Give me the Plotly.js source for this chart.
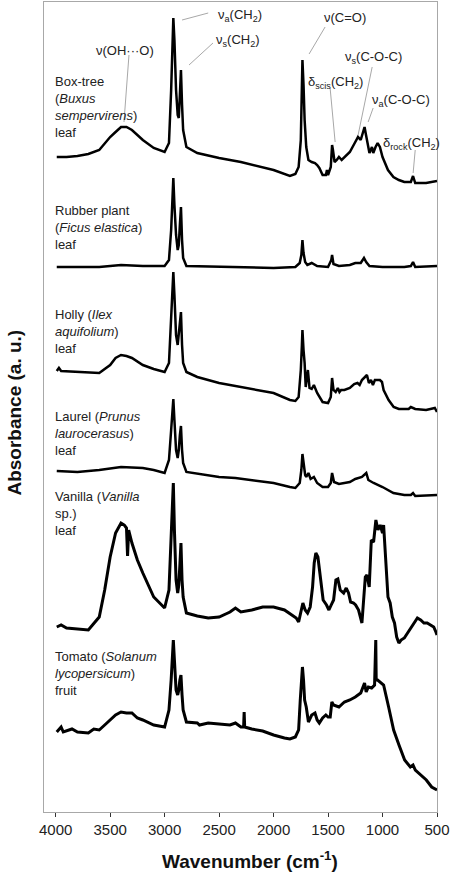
<!DOCTYPE html>
<html>
<head>
<meta charset="utf-8">
<script src="https://cdn.plot.ly/plotly-3.0.1.min.js"></script>
<style>
  html, body {margin: 0; padding: 0; background: #fff;}
  #ftir {width: 454px; height: 874px;}
</style>
</head>
<body>
<div id="ftir"></div>
<script>
// spectra, already stacked (a. u.)
var boxWn = [3990,3900,3800,3700,3600,3500,3450,3400,3350,3300,3200,3100,3000,2960,2940,2930,2920,2910,2895,2880,2870,2860,2850,2840,2830,2800,2700,2500,2300,2000,1850,1800,1770,1750,1740,1735,1725,1715,1700,1680,1650,1620,1600,1580,1550,1520,1510,1500,1475,1463,1455,1440,1420,1400,1375,1350,1300,1250,1225,1200,1165,1155,1140,1120,1097,1085,1064,1045,1024,1000,950,900,850,800,740,720,700,600,500];
var boxAbs = [65.5,65.5,65.6,65.8,66.2,67.5,68.0,68.5,68.5,68.2,67.2,66.4,66.0,66.9,72.2,77.2,79.4,77.2,72.2,69.7,69.4,71.7,74.2,70.7,68.2,66.5,65.9,65.4,65.0,64.2,63.6,63.8,64.5,67.2,72.2,75.2,72.7,69.2,66.5,65.2,65.0,64.9,64.7,64.4,63.7,63.7,64.2,63.7,64.5,66.7,66.2,65.0,65.2,65.5,65.2,65.5,66.0,67.0,67.5,67.2,68.5,67.9,66.9,65.9,66.5,65.9,66.5,66.9,66.5,65.5,64.2,63.5,63.2,63.0,63.0,63.6,62.9,62.9,63.1];

var rubberWn = [3990,3800,3600,3400,3200,3000,2960,2940,2930,2920,2910,2895,2880,2870,2860,2850,2840,2830,2800,2500,2000,1800,1760,1745,1735,1725,1710,1690,1650,1600,1500,1470,1463,1450,1400,1300,1250,1200,1170,1150,1120,1000,800,740,720,700,500];
var rubberAbs = [54.5,54.5,54.5,54.7,54.6,54.6,55.2,58.2,61.2,63.4,60.7,57.7,56.2,56.7,58.7,60.5,57.2,55.4,54.6,54.5,54.4,54.5,54.9,55.7,57.2,55.9,55.0,54.7,54.9,54.6,54.5,55.2,55.7,54.8,54.6,54.7,54.9,54.9,55.4,55.0,54.6,54.5,54.5,54.6,55.0,54.5,54.6];

var hollyWn = [3990,3970,3950,3800,3600,3500,3450,3400,3350,3300,3200,3100,3000,2960,2940,2930,2920,2910,2895,2880,2870,2860,2850,2840,2830,2800,2700,2500,2000,1850,1800,1770,1750,1740,1735,1725,1715,1705,1685,1670,1650,1630,1600,1550,1500,1475,1463,1450,1430,1410,1395,1380,1350,1300,1260,1230,1210,1189,1143,1125,1106,1088,1070,1024,1005,990,944,898,850,760,740,700,600,520,500];
var hollyAbs = [44.1,44.4,44.1,44.0,43.9,44.7,45.4,45.7,45.6,45.4,44.7,44.3,44.0,44.9,49.2,52.2,54.0,51.7,47.7,46.7,47.7,49.0,50.0,46.7,44.9,44.0,43.5,42.9,41.9,41.2,41.1,41.5,44.2,46.7,48.2,46.2,44.9,42.5,44.2,42.4,42.3,42.7,41.9,41.0,40.9,41.5,43.4,42.2,42.0,42.4,42.0,42.2,42.2,42.4,42.8,42.9,42.7,43.2,43.7,42.9,43.2,42.7,43.2,43.2,43.0,42.2,41.2,40.5,40.3,40.3,40.5,40.3,40.2,40.4,40.0];

var laurelWn = [3990,3800,3600,3400,3200,3100,3000,2960,2940,2930,2920,2910,2895,2880,2870,2860,2850,2840,2830,2800,2500,2350,2000,1850,1800,1760,1745,1735,1725,1710,1700,1680,1660,1630,1600,1550,1500,1475,1463,1445,1400,1350,1300,1250,1189,1149,1130,1082,1000,900,800,740,720,700,500];
var laurelAbs = [34.1,34.0,34.2,34.5,34.4,34.2,33.9,35.2,38.2,40.2,41.3,39.2,36.2,35.4,36.2,37.7,38.6,36.2,34.9,34.0,33.5,33.4,32.9,32.5,32.4,32.9,34.2,35.8,34.7,33.7,33.5,33.9,33.3,33.5,32.9,32.5,32.5,32.9,33.9,33.0,32.8,32.9,33.0,33.3,33.5,33.9,33.2,32.9,32.5,31.9,31.7,31.7,31.9,31.6,31.7];

var vanillaWn = [3990,3950,3900,3700,3600,3550,3500,3450,3400,3370,3350,3340,3330,3300,3250,3200,3100,3000,2960,2940,2930,2920,2910,2895,2880,2870,2860,2850,2840,2830,2800,2700,2600,2500,2400,2350,2300,2200,2100,2000,1900,1850,1792,1770,1731,1710,1688,1664,1642,1627,1612,1593,1572,1545,1514,1492,1471,1449,1428,1410,1388,1357,1333,1312,1293,1266,1247,1220,1189,1174,1158,1143,1122,1103,1082,1061,1042,1021,1000,990,970,950,930,910,890,870,850,830,800,770,740,710,680,650,620,590,560,530,510,500];
var vanillaAbs = [18.5,18.7,18.4,18.2,19.5,22.2,25.5,27.9,28.9,28.7,28.4,25.6,28.2,26.9,25.2,23.9,21.5,20.4,22.2,27.2,31.2,32.9,28.2,23.2,21.9,22.7,24.7,26.9,23.2,21.5,19.9,19.6,19.4,19.5,20.0,20.4,20.0,20.2,20.5,20.5,20.2,19.8,19.4,19.0,20.9,20.2,19.9,20.5,22.5,24.9,25.9,25.5,23.5,21.2,20.7,20.2,20.7,21.2,23.2,23.3,22.2,21.9,22.4,21.9,21.0,20.9,20.7,20.2,18.9,21.2,23.5,23.7,22.5,27.2,27.0,29.2,28.2,28.7,27.9,28.7,25.5,21.5,20.9,19.5,18.9,17.5,16.9,17.2,17.4,17.9,18.4,19.0,19.4,19.2,18.9,18.9,18.7,18.5,18.0,17.7];

var tomatoWn = [3990,3950,3930,3900,3850,3800,3700,3650,3600,3550,3500,3450,3400,3350,3300,3250,3200,3100,3000,2960,2940,2930,2920,2910,2895,2880,2870,2860,2850,2840,2830,2800,2700,2680,2600,2500,2400,2350,2300,2275,2270,2265,2200,2100,2000,1900,1850,1800,1770,1755,1745,1735,1725,1715,1700,1680,1650,1620,1600,1580,1550,1520,1500,1480,1465,1450,1400,1350,1300,1250,1200,1165,1150,1130,1100,1073,1062,1058,1045,990,944,898,849,797,745,720,699,650,598,549,500];
var tomatoAbs = [8.0,8.5,8.0,8.1,8.3,8.0,7.9,8.3,8.2,8.7,9.2,9.7,10.0,9.9,9.9,9.4,9.2,8.7,8.5,10.2,13.2,15.7,17.2,15.2,12.2,11.7,12.2,13.2,13.7,11.7,10.2,9.0,8.9,8.7,8.9,8.8,8.7,8.9,8.5,8.5,10.0,8.5,8.3,8.1,7.7,7.4,7.3,7.5,8.2,11.2,13.2,14.5,13.2,11.2,10.5,9.0,9.7,9.9,9.2,8.9,9.4,9.7,9.5,9.5,11.0,10.7,10.5,11.0,11.2,11.5,11.9,12.9,12.0,12.5,12.4,12.7,17.2,13.2,13.2,12.7,10.5,8.2,6.7,5.2,4.5,4.7,4.2,3.7,3.2,2.5,2.2];

var sampleNames = [
  'Box-tree<br>(<i>Buxus</i><br><i>sempervirens</i>)<br>leaf',
  'Rubber plant<br>(<i>Ficus elastica</i>)<br>leaf',
  'Holly (<i>Ilex</i><br><i>aquifolium</i>)<br>leaf',
  'Laurel (<i>Prunus</i><br><i>laurocerasus</i>)<br>leaf',
  'Vanilla (<i>Vanilla</i><br>sp.)<br>leaf',
  'Tomato (<i>Solanum</i><br><i>lycopersicum</i>)<br>fruit'
];
var nameTop = [74.0, 61.1, 50.7, 40.5, 32.5, 16.5];

var xTicks = [4000, 3500, 3000, 2500, 2000, 1500, 1000, 500];

var font = 'Liberation Sans, Arial, sans-serif';

var spectra = [
  [boxWn, boxAbs, 2.5],
  [rubberWn, rubberAbs, 2.5],
  [hollyWn, hollyAbs, 2.5],
  [laurelWn, laurelAbs, 2.5],
  [vanillaWn, vanillaAbs, 3],
  [tomatoWn, tomatoAbs, 3]
];

var data = spectra.map(function (s) {
  return {
    x: s[0], y: s[1],
    mode: 'lines',
    line: {color: '#000', width: s[2]},
    hoverinfo: 'skip'
  };
});

// band labels with their leader lines (text pos, line start, line end)
var bands = [
  {t: '\u03bd(OH\u00b7\u00b7\u00b7O)', x: 3364, y: 76.2, l: [3327, 75.7, 3373, 69.0]},
  {t: '\u03bd<sub>a</sub>(CH<sub>2</sub>)', x: 2308, y: 79.7, l: [2600, 79.9, 2840, 79.2]},
  {t: '\u03bd<sub>s</sub>(CH<sub>2</sub>)', x: 2326, y: 77.2, l: [2556, 76.9, 2776, 74.7]},
  {t: '\u03bd(C=O)', x: 1343, y: 79.5, l: [1527, 78.5, 1674, 75.8]},
  {t: '\u03b4<sub>scis</sub>(CH<sub>2</sub>)', x: 1435, y: 73.0, l: [1481, 72.4, 1435, 67.0]},
  {t: '\u03bd<sub>s</sub>(C-O-C)', x: 1086, y: 75.5, l: [1095, 74.5, 1224, 67.7]},
  {t: '\u03bd<sub>a</sub>(C-O-C)', x: 829, y: 71.2, l: [1086, 70.4, 1132, 69.0]},
  {t: '\u03b4<sub>rock</sub>(CH<sub>2</sub>)', x: 737, y: 66.9, l: [700, 66.2, 719, 63.9]}
];

var annotations = [];
var shapes = [];

bands.forEach(function (b) {
  annotations.push({
    x: b.x, y: b.y, xref: 'x', yref: 'y', text: b.t, showarrow: false,
    xanchor: 'center', yanchor: 'middle',
    font: {family: font, size: 13, color: '#222'}
  });
  shapes.push({
    type: 'line', xref: 'x', yref: 'y',
    x0: b.l[0], y0: b.l[1], x1: b.l[2], y1: b.l[3],
    line: {color: '#a8a8a8', width: 1}
  });
});

sampleNames.forEach(function (n, i) {
  annotations.push({
    x: 0.022, xref: 'paper', xanchor: 'left',
    y: nameTop[i], yref: 'y', yanchor: 'top',
    text: n, align: 'left', showarrow: false,
    font: {family: font, size: 13, color: '#222'}
  });
});

annotations.push({
  x: -0.074, y: 0.493, xref: 'paper', yref: 'paper', textangle: -90,
  xanchor: 'center', yanchor: 'middle',
  text: '<b>Absorbance (a. u.)</b>', showarrow: false,
  font: {family: font, size: 19, color: '#111'}
});
annotations.push({
  x: 0.524, y: -0.059, xref: 'paper', yref: 'paper',
  xanchor: 'center', yanchor: 'middle',
  text: '<b>Wavenumber (cm<sup>-1</sup>)</b>', showarrow: false,
  font: {family: font, size: 19, color: '#111'}
});

var layout = {
  width: 454, height: 874,
  margin: {l: 44, r: 17, t: 2, b: 62},
  paper_bgcolor: '#fff', plot_bgcolor: '#fff',
  showlegend: false,
  hovermode: false,
  xaxis: {
    range: [4107, 500],
    tickvals: xTicks,
    ticktext: xTicks.map(String),
    ticks: 'outside', ticklen: 4, tickcolor: '#333', tickwidth: 1,
    showgrid: false, zeroline: false,
    showline: true, linecolor: '#a8a8a8', linewidth: 1, mirror: true,
    tickfont: {family: font, size: 15, color: '#222'}
  },
  yaxis: {
    range: [0, 81],
    showticklabels: false, ticks: '',
    showgrid: false, zeroline: false,
    showline: true, linecolor: '#a8a8a8', linewidth: 1, mirror: true
  },
  annotations: annotations,
  shapes: shapes
};

Plotly.newPlot('ftir', data, layout, {displayModeBar: false, staticPlot: true});
</script>
</body>
</html>
